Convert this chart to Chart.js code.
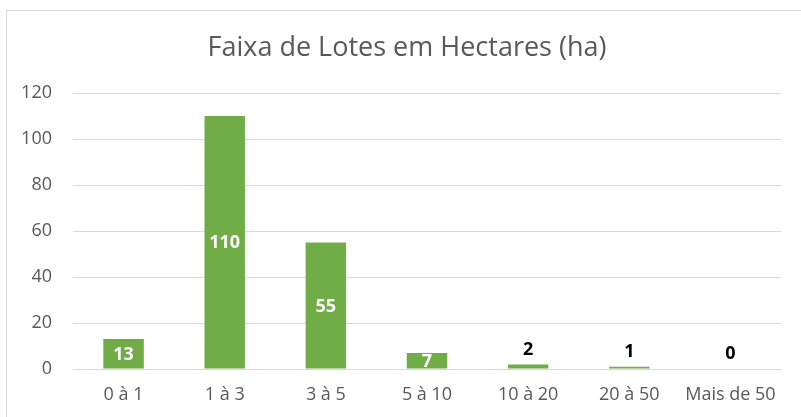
<!DOCTYPE html>
<html>
<head>
<meta charset="utf-8">
<script src="https://cdn.jsdelivr.net/npm/chart.js@4"></script>
<style>
  html, body { margin: 0; padding: 0; background: #fff; }
  #wrap { width: 801px; height: 417px; position: relative; }
</style>
</head>
<body>
<div id="wrap"><canvas id="c" width="801" height="417"></canvas></div>
<script>
const categories = ["0 à 1", "1 à 3", "3 à 5", "5 à 10", "10 à 20", "20 à 50", "Mais de 50"];
const values = [13, 110, 55, 7, 2, 1, 0];
const titleText = "Faixa de Lotes em Hectares (ha)";

const FONT = "'Open Sans', 'Liberation Sans', sans-serif";

const borderPlugin = {
  id: 'borderPlugin',
  beforeDraw(chart) {
    const ctx = chart.ctx;
    ctx.save();
    ctx.fillStyle = '#fff';
    ctx.fillRect(0, 0, chart.width, chart.height);
    ctx.strokeStyle = '#d9d9d9';
    ctx.lineWidth = 1;
    ctx.strokeRect(6.5, 10.5, 820, 420);
    ctx.restore();
  },
  afterDraw(chart) {
    const ctx = chart.ctx;
    ctx.save();
    ctx.font = "27px " + FONT;
    ctx.fillStyle = '#595959';
    ctx.textAlign = 'center';
    ctx.textBaseline = 'middle';
    ctx.fillText(titleText, 407, 48);
    ctx.restore();
  }
};

const labelPlugin = {
  id: 'labelPlugin',
  afterDatasetsDraw(chart) {
    const ctx = chart.ctx;
    const meta = chart.getDatasetMeta(0);
    ctx.save();
    ctx.font = "bold 18px " + FONT;
    ctx.textAlign = 'center';
    ctx.textBaseline = 'middle';
    meta.data.forEach((bar, i) => {
      const v = values[i];
      if (v >= 5) {
        ctx.fillStyle = '#ffffff';
        ctx.fillText(String(v), bar.x, (bar.y + bar.base) / 2 + 1);
      } else {
        ctx.fillStyle = '#000000';
        ctx.fillText(String(v), bar.x, bar.y - 15);
      }
    });
    ctx.restore();
  }
};

new Chart(document.getElementById('c'), {
  type: 'bar',
  data: {
    labels: categories,
    datasets: [{
      data: values,
      backgroundColor: '#70AD47',
      borderWidth: 0,
      barPercentage: 0.4,
      categoryPercentage: 1.0
    }]
  },
  options: {
    responsive: false,
    animation: false,
    devicePixelRatio: 1,
    layout: { padding: { left: 11, right: 20, top: 93, bottom: 12 } },
    plugins: {
      legend: { display: false },
      tooltip: { enabled: false },
      title: { display: false }
    },
    scales: {
      x: {
        afterFit(scale) { scale.height = 36; },
        grid: { display: false, drawTicks: false },
        border: { display: true, color: '#d9d9d9', width: 1 },
        ticks: { color: '#595959', font: { family: FONT, size: 18 }, padding: 15, maxRotation: 0, autoSkip: false }
      },
      y: {
        min: 0, max: 120,
        afterFit(scale) { scale.width = 62; },
        grid: { color: '#d9d9d9', drawTicks: false },
        border: { display: false },
        ticks: { stepSize: 20, color: '#595959', font: { family: FONT, size: 18 }, padding: 21 }
      }
    }
  },
  plugins: [borderPlugin, labelPlugin]
});
</script>
</body>
</html>
